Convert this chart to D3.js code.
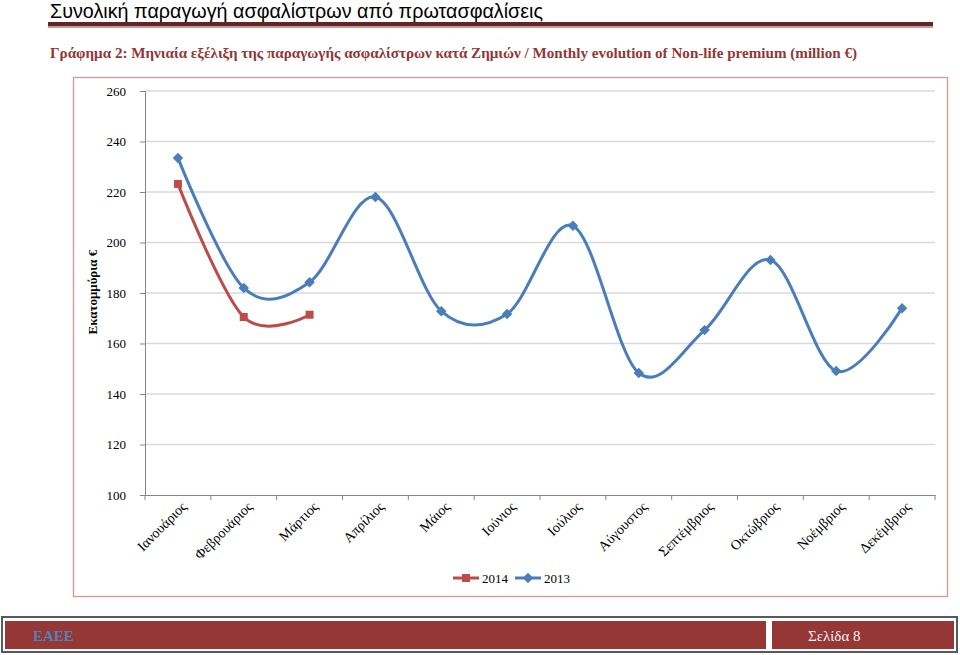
<!DOCTYPE html>
<html>
<head>
<meta charset="utf-8">
<script src="https://cdn.jsdelivr.net/npm/d3@7"></script>
<style>
  body { margin: 0; background: #fff; }
  svg { display: block; }
</style>
</head>
<body>
<svg width="960" height="655"></svg>
<script>
const months = ["Ιανουάριος", "Φεβρουάριος", "Μάρτιος", "Απρίλιος", "Μάιος", "Ιούνιος",
	"Ιούλιος", "Αύγουστος", "Σεπτέμβριος", "Οκτώβριος", "Νοέμβριος", "Δεκέμβριος"];
const values2013 = [233.5, 182, 184.3, 218, 172.8, 171.7, 206.6, 148.3, 165.3, 193.1, 149.1, 174];
const values2014 = [223.2, 170.5, 171.4];
const yTicks = [100, 120, 140, 160, 180, 200, 220, 240, 260];

const svg = d3.select("svg");
const serif = "Liberation Serif, DejaVu Serif, serif";

// page header
svg.append("text").attr("x", 50).attr("y", 18)
	.attr("font-family", "Liberation Sans Narrow, Liberation Sans, sans-serif")
	.attr("font-size", 21).attr("fill", "#000")
	.attr("textLength", 493).attr("lengthAdjust", "spacingAndGlyphs")
	.text("Συνολική παραγωγή ασφαλίστρων από πρωτασφαλίσεις");
svg.append("rect").attr("x", 48).attr("y", 22).attr("width", 885).attr("height", 4).attr("fill", "#632523");
svg.append("rect").attr("x", 48).attr("y", 26.5).attr("width", 885).attr("height", 1).attr("fill", "#943634");

svg.append("text").attr("x", 50).attr("y", 58)
	.attr("font-family", serif).attr("font-weight", "bold")
	.attr("font-size", 15).attr("fill", "#943634")
	.attr("textLength", 807).attr("lengthAdjust", "spacingAndGlyphs")
	.text("Γράφημα 2: Μηνιαία εξέλιξη της παραγωγής ασφαλίστρων κατά Ζημιών / Monthly evolution of Non-life premium (million €)");

// chart frame
svg.append("rect").attr("x", 73.5).attr("y", 77.5).attr("width", 874).attr("height", 519)
	.attr("fill", "#fff").attr("stroke", "#d99694").attr("stroke-width", 1.3);

const x = d3.scaleBand().domain(months).range([145, 935]);
const y = d3.scaleLinear().domain([100, 260]).range([495, 91]);

// gridlines
svg.append("g").selectAll("line").data(yTicks.slice(1)).join("line")
	.attr("x1", 145).attr("x2", 935)
	.attr("y1", (d) => y(d)).attr("y2", (d) => y(d))
	.attr("stroke", "#d9d9d9").attr("stroke-width", 1.3);

// y axis
const yAxis = svg.append("g").attr("transform", "translate(145,0)")
	.call(d3.axisLeft(y).tickValues(yTicks).tickSize(5).tickPadding(14));
yAxis.select(".domain").attr("stroke", "#868686");
yAxis.selectAll(".tick line").attr("stroke", "#868686");
yAxis.selectAll("text").attr("font-family", serif).attr("font-size", 13).attr("fill", "#000");

// x axis
const xAxis = svg.append("g").attr("transform", "translate(0,495)")
	.call(d3.axisBottom(x).tickSize(0).tickSizeOuter(0));
xAxis.select(".domain").attr("stroke", "#868686");
xAxis.selectAll(".tick text")
	.attr("font-family", serif).attr("font-size", 14).attr("fill", "#000")
	.attr("text-anchor", "end")
	.attr("transform", "translate(6,9) rotate(-45)")
	.attr("dy", "0.35em").attr("y", 0);
svg.append("g").selectAll("line").data(months.map((m) => x(m)).concat([935])).join("line")
	.attr("x1", (d) => d).attr("x2", (d) => d)
	.attr("y1", 495).attr("y2", 500)
	.attr("stroke", "#868686");

// y axis title
svg.append("text")
	.attr("transform", "translate(97,292) rotate(-90)")
	.attr("text-anchor", "middle")
	.attr("font-family", serif).attr("font-weight", "bold").attr("font-size", 13)
	.text("Εκατομμύρια  €");

const cx = (i) => x(months[i]) + x.bandwidth() / 2;
const line = d3.line()
	.x((d, i) => cx(i))
	.y((d) => y(d))
	.curve(d3.curveCatmullRom.alpha(0));

const blue = "#4a7ebb";
const red = "#be4b48";

svg.append("path").datum(values2013).attr("d", line)
	.attr("fill", "none").attr("stroke", blue).attr("stroke-width", 3);
svg.append("path").datum(values2014).attr("d", line)
	.attr("fill", "none").attr("stroke", red).attr("stroke-width", 3);

const diamond = d3.symbol().type(d3.symbolDiamond2).size(70);
const square = d3.symbol().type(d3.symbolSquare).size(64);

svg.append("g").selectAll("path").data(values2013).join("path")
	.attr("d", diamond)
	.attr("transform", (d, i) => `translate(${cx(i)},${y(d)})`)
	.attr("fill", blue);
svg.append("g").selectAll("path").data(values2014).join("path")
	.attr("d", square)
	.attr("transform", (d, i) => `translate(${cx(i)},${y(d)})`)
	.attr("fill", red);

// legend
const legend = [{ name: "2014", color: red, sym: square, x: 453 }, { name: "2013", color: blue, sym: diamond, x: 515 }];
const lg = svg.append("g").selectAll("g").data(legend).join("g")
	.attr("transform", (d) => `translate(${d.x},578)`);
lg.append("line").attr("x1", 0).attr("x2", 26).attr("stroke", (d) => d.color).attr("stroke-width", 3);
lg.append("path").attr("d", (d) => d.sym()).attr("transform", "translate(13,0)").attr("fill", (d) => d.color);
lg.append("text").attr("x", 29).attr("y", 4.5)
	.attr("font-family", serif).attr("font-size", 13).text((d) => d.name);

// footer
svg.append("rect").attr("x", 2).attr("y", 617).attr("width", 955).attr("height", 35)
	.attr("fill", "#fff").attr("stroke", "#595959").attr("stroke-width", 2);
svg.append("rect").attr("x", 5).attr("y", 621).attr("width", 761).attr("height", 28).attr("fill", "#953735");
svg.append("rect").attr("x", 772).attr("y", 621).attr("width", 182).attr("height", 28).attr("fill", "#953735");
svg.append("text").attr("x", 33).attr("y", 641)
	.attr("font-family", serif).attr("font-weight", "bold").attr("font-size", 15).attr("fill", "#4f81bd")
	.text("ΕΑΕΕ");
svg.append("text").attr("x", 808).attr("y", 641)
	.attr("font-family", serif).attr("font-size", 15).attr("fill", "#f2f2f2")
	.text("Σελίδα 8");
</script>
</body>
</html>
